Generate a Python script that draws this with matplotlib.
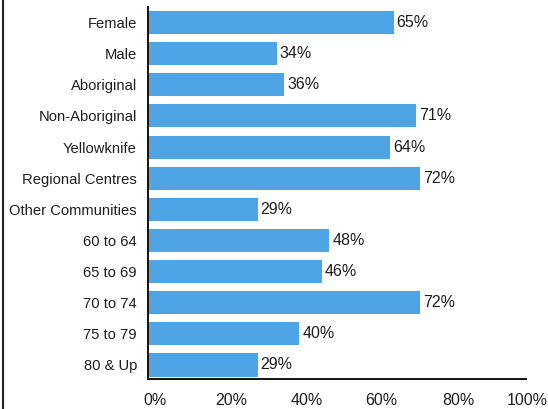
import matplotlib.pyplot as plt
import matplotlib.transforms as mtransforms
from matplotlib.lines import Line2D

categories = ["Female", "Male", "Aboriginal", "Non-Aboriginal", "Yellowknife",
              "Regional Centres", "Other Communities", "60 to 64", "65 to 69",
              "70 to 74", "75 to 79", "80 & Up"]
values = [65, 34, 36, 71, 64, 72, 29, 48, 46, 72, 40, 29]
xticks = [0, 20, 40, 60, 80, 100]
xticklabels = ["0%", "20%", "40%", "60%", "80%", "100%"]

plt.rcParams['font.family'] = ['Liberation Sans', 'DejaVu Sans']
bar_color = '#4ea4e4'
text_color = '#1e1e1e'

fig = plt.figure(figsize=(5.48, 4.09), dpi=100)
ax = fig.add_axes([148 / 548, 1 - 379 / 409, 378 / 548, 372 / 409])

pos = list(range(len(categories)))
ax.barh(pos, values, height=0.74, color=bar_color)
for p, v in zip(pos, values):
    ax.text(v + 0.8, p, f"{v}%", va='center', ha='left', fontsize=11.5, color=text_color)

ax.set_xlim(0, 100)
ax.set_ylim(11.45, -0.5)
ax.set_yticks(pos)
ax.set_yticklabels(categories, fontsize=10.6, color=text_color)
ax.set_xticks(xticks)
ax.set_xticklabels(xticklabels, fontsize=11.5, color=text_color)
ax.tick_params(axis='y', length=0, pad=8)
ax.tick_params(axis='x', length=0, pad=10)

# the printed tick labels sit a little right of their ticks
shifts = [7, 8, 8, 7, 8, 1]
for lbl, dx in zip(ax.get_xticklabels(), shifts):
    off = mtransforms.ScaledTranslation(dx / 100, 0, fig.dpi_scale_trans)
    lbl.set_transform(lbl.get_transform() + off)

for s in ['top', 'right']:
    ax.spines[s].set_visible(False)
for s in ['left', 'bottom']:
    ax.spines[s].set_linewidth(1.4)
    ax.spines[s].set_color('#111111')

# scan border on the left edge
fig.add_artist(Line2D([2.5 / 548, 2.5 / 548], [0, 1], color='#222222', linewidth=1.5,
                      transform=fig.transFigure))

fig.savefig("out.png", dpi=100)
